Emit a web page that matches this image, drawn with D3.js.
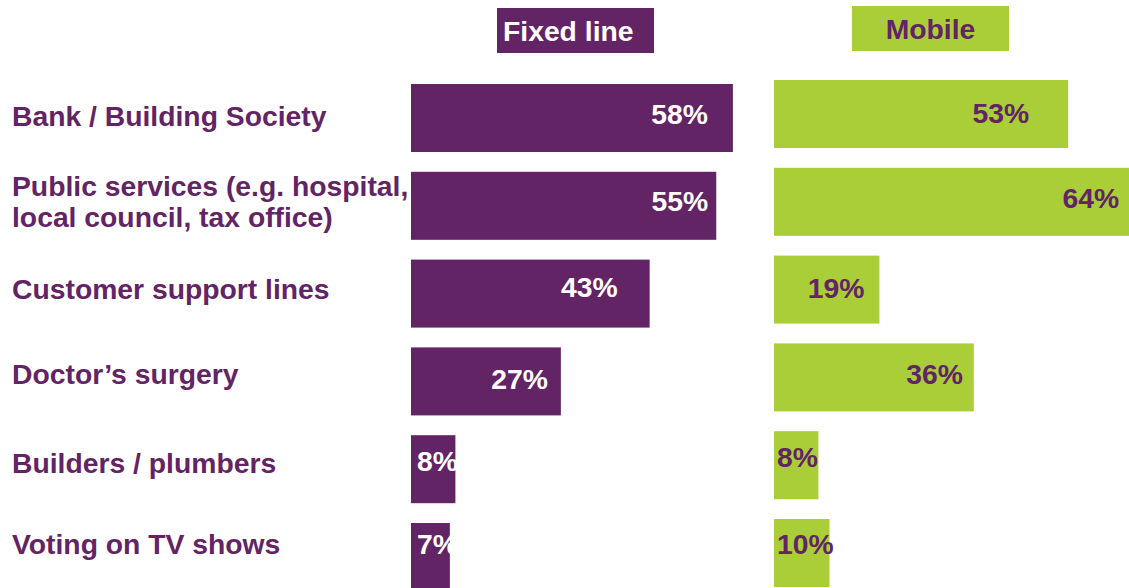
<!DOCTYPE html>
<html>
<head>
<meta charset="utf-8">
<script src="https://cdn.jsdelivr.net/npm/d3@7"></script>
<style>
  html, body { margin: 0; padding: 0; background: #ffffff; }
  svg { display: block; }
  text { font-family: "Liberation Sans", Arial, sans-serif; font-weight: bold; }
</style>
</head>
<body>
<svg id="chart" width="1129" height="588"></svg>
<script>
// Share of respondents using each service, by phone type (%)
const categories = [
  "Bank / Building Society",
  "Public services (e.g. hospital,\nlocal council, tax office)",
  "Customer support lines",
  "Doctor\u2019s surgery",
  "Builders / plumbers",
  "Voting on TV shows"
];
const fixedLine = [58, 55, 43, 27, 8, 7];
const mobile = [53, 64, 19, 36, 8, 10];
const seriesNames = ["Fixed line", "Mobile"];

// ---- layout & style ----
const W = 1129, H = 588;
const PURPLE = "#622465";
const GREEN = "#a9ce38";
const FONT = 28.3;

const svg = d3.select("#chart");

// value scale shared by both panels (percent -> pixel length)
const x = d3.scaleLinear().domain([0, 100]).range([0, 555]);
const fixedX0 = 411, mobileX0 = 774;

// row bands (mobile bars sit 4px above the fixed-line bars)
const y = d3.scaleBand()
  .domain(categories)
  .range([80, 587])
  .paddingInner(0.2255)
  .paddingOuter(0);
const fixedShift = 4;

// fine text placement per row
const rowLabelDy = [46, 28, 43, 41, 42, 35];
const fixedValueDy = [40, 39, 37, 42, 36, 31];
const mobileValueDy = [43, 40, 42, 41, 36, 35];
const fixedInset = [25, 8, 32, 13];
const mobileInset = [39, 10, 15, 11];

// category labels
const labels = svg.append("g").attr("class", "row-labels");
categories.forEach((c, i) => {
  const lines = c.split("\n");
  const t = labels.append("text")
    .attr("x", 12)
    .attr("y", y(c) + rowLabelDy[i])
    .attr("fill", PURPLE)
    .style("font-size", FONT + "px");
  lines.forEach((ln, j) => {
    t.append("tspan").attr("x", 12).attr("dy", j === 0 ? 0 : 31).text(ln);
  });
});

// panel drawing
function panel(values, x0, shift, fill, textFill, insets, valueDy, pad) {
  const g = svg.append("g");
  g.selectAll("rect")
    .data(values)
    .join("rect")
    .attr("x", x0)
    .attr("y", (d, i) => y(categories[i]) + shift)
    .attr("width", d => x(d))
    .attr("height", y.bandwidth())
    .attr("fill", fill);

  g.selectAll("text")
    .data(values)
    .join("text")
    .attr("fill", textFill)
    .style("font-size", FONT + "px")
    .attr("text-anchor", d => d <= 10 ? "start" : "end")
    .attr("x", (d, i) => d <= 10 ? x0 + pad : x0 + x(d) - insets[i])
    .attr("y", (d, i) => y(categories[i]) + shift + valueDy[i])
    .text(d => d + "%");
}

panel(fixedLine, fixedX0, fixedShift, PURPLE, "#ffffff", fixedInset, fixedValueDy, 6);
panel(mobile, mobileX0, 0, GREEN, PURPLE, mobileInset, mobileValueDy, 3);

// column headers
const headers = svg.append("g");
headers.append("rect").attr("x", 497).attr("y", 8).attr("width", 157).attr("height", 45).attr("fill", PURPLE);
headers.append("text").attr("x", 503).attr("y", 41).attr("fill", "#ffffff")
  .style("font-size", FONT + "px").text(seriesNames[0]);
headers.append("rect").attr("x", 852).attr("y", 6).attr("width", 157).attr("height", 45).attr("fill", GREEN);
headers.append("text").attr("x", 930.5).attr("y", 39).attr("fill", PURPLE)
  .attr("text-anchor", "middle")
  .style("font-size", FONT + "px").text(seriesNames[1]);
</script>
</body>
</html>
